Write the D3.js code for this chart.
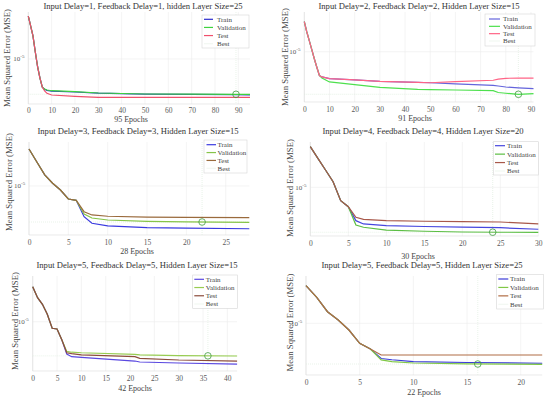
<!DOCTYPE html>
<html><head><meta charset="utf-8">
<script src="https://cdn.jsdelivr.net/npm/d3@7"></script>
<style>
html,body{margin:0;padding:0;background:#fff;}
svg{display:block;}
text{font-family:"Liberation Serif","Times New Roman",serif;}
</style></head>
<body><svg id="c" width="550" height="398"></svg>
<script>
// ---------------- DATA ----------------
const titles = [
  "Input Delay=1, Feedback Delay=1, hidden Layer Size=25",
  "Input Delay=2, Feedback Delay=2, Hidden Layer Size=15",
  "Input Delay=3, Feedback Delay=3, Hidden Layer Size=15",
  "Input Delay=4, Feedback Delay=4, Hidden Layer Size=20",
  "Input Delay=5, Feedback Delay=5, Hidden Layer Size=15",
  "Input Delay=5, Feedback Delay=5, Hidden Layer Size=25"
];
const maxEpochs = [95, 91, 28, 30, 42, 22];
const bestEpochs = [89, 85, 22, 24, 36, 16];
const xTicks = [
  [0,10,20,30,40,50,60,70,80,90],
  [0,10,20,30,40,50,60,70,80,90],
  [0,5,10,15,20,25],
  [0,5,10,15,20,25,30],
  [0,5,10,15,20,25,30,35,40],
  [0,5,10,15,20]
];
const yTickValues = [1e-5];
const legendLabels = ["Train", "Validation", "Test", "Best"];

// Panel 1
const p1Epochs = [0,1,2,3,4,5,6,7,8,10,20,30,50,70,89,95];
const p1Train = [5.2e-5,3.55e-5,2.42e-5,1.31e-5,7.36e-6,4.8e-6,3.4e-6,3.12e-6,3.0e-6,2.92e-6,2.82e-6,2.69e-6,2.59e-6,2.57e-6,2.55e-6,2.53e-6];
const p1Val   = [5.2e-5,3.55e-5,2.42e-5,1.31e-5,7.36e-6,4.8e-6,3.4e-6,3.16e-6,3.04e-6,2.96e-6,2.85e-6,2.71e-6,2.61e-6,2.59e-6,2.58e-6,2.58e-6];
const p1Test  = [5.2e-5,3.55e-5,2.42e-5,1.31e-5,7.36e-6,4.8e-6,3.4e-6,2.93e-6,2.68e-6,2.51e-6,2.39e-6,2.30e-6,2.30e-6,2.30e-6,2.30e-6,2.30e-6];
// Panel 2
const p2Epochs = [0,1,2,3,4,5,6,7,10,20,30,45,50,60,75,77,80,85,91];
const p2Train = [3.16e-5,2.13e-5,1.51e-5,1.07e-5,7.56e-6,5.46e-6,4.01e-6,3.8e-6,3.55e-6,3.38e-6,3.21e-6,3.08e-6,3.04e-6,2.90e-6,2.75e-6,2.68e-6,2.58e-6,2.50e-6,2.42e-6];
const p2Val   = [3.16e-5,2.13e-5,1.51e-5,1.07e-5,7.56e-6,5.46e-6,4.01e-6,3.64e-6,3.13e-6,2.82e-6,2.55e-6,2.36e-6,2.34e-6,2.30e-6,2.24e-6,2.09e-6,2.03e-6,1.95e-6,2.0e-6];
const p2Test  = [3.16e-5,2.13e-5,1.51e-5,1.07e-5,7.56e-6,5.46e-6,4.01e-6,3.8e-6,3.55e-6,3.38e-6,3.21e-6,3.08e-6,3.04e-6,3.16e-6,3.34e-6,3.5e-6,3.6e-6,3.64e-6,3.64e-6];
// Panel 3
const p3Epochs = [0,1,2,3,4,5,6,7,8,10,15,20,28];
const p3Train = [4.14e-5,2.51e-5,1.53e-5,1.11e-5,8.58e-6,6.07e-6,5.78e-6,3.08e-6,2.39e-6,2.16e-6,2.03e-6,1.98e-6,1.94e-6];
const p3Val   = [4.14e-5,2.51e-5,1.53e-5,1.11e-5,8.58e-6,6.07e-6,5.78e-6,3.41e-6,2.93e-6,2.71e-6,2.58e-6,2.52e-6,2.48e-6];
const p3Test  = [4.14e-5,2.51e-5,1.53e-5,1.11e-5,8.58e-6,6.07e-6,5.78e-6,3.73e-6,3.29e-6,3.13e-6,3.04e-6,3.0e-6,2.96e-6];
// Panel 4
const p4Epochs = [0,1,2,3,4,5,6,7,10,15,20,25,30];
const p4Train = [4.75e-5,3.03e-5,1.94e-5,1.24e-5,5.98e-6,4.75e-6,2.78e-6,2.45e-6,2.29e-6,2.22e-6,2.17e-6,2.12e-6,2.0e-6];
const p4Val   = [4.75e-5,3.03e-5,1.94e-5,1.24e-5,5.98e-6,4.75e-6,2.35e-6,2.16e-6,1.94e-6,1.85e-6,1.80e-6,1.78e-6,1.78e-6];
const p4Test  = [4.75e-5,3.03e-5,1.94e-5,1.24e-5,5.98e-6,4.75e-6,3.16e-6,2.93e-6,2.78e-6,2.72e-6,2.68e-6,2.64e-6,2.45e-6];
// Panel 5
const p5Epochs = [0,1,2,3,4,5,6,7,8,10,21,22,30,42];
const p5Train = [3.83e-5,2.51e-5,1.95e-5,1.33e-5,7.76e-6,7.56e-6,4.96e-6,2.89e-6,2.61e-6,2.55e-6,2.21e-6,2.13e-6,2.05e-6,1.97e-6];
const p5Val   = [3.83e-5,2.51e-5,1.95e-5,1.33e-5,7.76e-6,7.56e-6,4.96e-6,3.2e-6,3.1e-6,3.04e-6,2.86e-6,2.79e-6,2.71e-6,2.68e-6];
const p5Test  = [3.83e-5,2.51e-5,1.95e-5,1.33e-5,7.76e-6,7.56e-6,4.96e-6,3.04e-6,2.93e-6,2.79e-6,2.61e-6,2.45e-6,2.30e-6,2.21e-6];
// Panel 6
const p6Epochs = [0,1,2,3,4,5,6,7,8,10,15,22];
const p6Train = [4.24e-5,2.71e-5,1.56e-5,1.135e-5,7.73e-6,4.64e-6,3.73e-6,2.59e-6,2.47e-6,2.29e-6,2.22e-6,2.16e-6];
const p6Val   = [4.24e-5,2.71e-5,1.56e-5,1.135e-5,7.73e-6,4.64e-6,3.73e-6,2.45e-6,2.29e-6,2.18e-6,2.10e-6,2.07e-6];
const p6Test  = [4.24e-5,2.71e-5,1.56e-5,1.135e-5,7.73e-6,4.64e-6,3.73e-6,2.96e-6,2.96e-6,2.96e-6,2.96e-6,2.96e-6];

const allEpochs = [p1Epochs,p2Epochs,p3Epochs,p4Epochs,p5Epochs,p6Epochs];
const allTrain = [p1Train,p2Train,p3Train,p4Train,p5Train,p6Train];
const allVal = [p1Val,p2Val,p3Val,p4Val,p5Val,p6Val];
const allTest = [p1Test,p2Test,p3Test,p4Test,p5Test,p6Test];

// ---------------- LAYOUT / STYLE ----------------
const layout = [
  {x0:28.3,x1:250,y5:59,T:12,B:104,titleX:143,titleY:6,ylabX:7,ylabY:58,tickY:110,xlabY:119,xlabX:131,
   leg:{x:202,y:15,w:47,h:33,ly:19.3,lx0:204,lx1:213,tx:217}},
  {x0:304.3,x1:533.5,y5:51.7,T:12,B:102,titleX:419,titleY:6,ylabX:285,ylabY:57,tickY:109,xlabY:118,xlabX:415,
   leg:{x:485,y:14,w:50,h:32,ly:19,lx0:489,lx1:500,tx:503}},
  {x0:29,x1:249.3,y5:186,T:142,B:235,titleX:138,titleY:131,ylabX:9,ylabY:182,tickY:242.3,xlabY:250.7,xlabX:137,
   leg:{x:204,y:140,w:43,h:33,ly:144.7,lx0:206.5,lx1:216,tx:217.5}},
  {x0:310.3,x1:538.3,y5:187.3,T:142,B:236,titleX:423,titleY:131,ylabX:290,ylabY:188,tickY:243,xlabY:256,xlabX:418,
   leg:{x:493.3,y:141.7,w:45,h:33.3,ly:145.7,lx0:495,lx1:505,tx:507}},
  {x0:32.7,x1:237.1,y5:321.7,T:276,B:371,titleX:137,titleY:265,ylabX:15,ylabY:321,tickY:378.7,xlabY:387.7,xlabX:135,
   leg:{x:192.7,y:275,w:44.6,h:33.3,ly:279.3,lx0:194.3,lx1:204,tx:205.7}},
  {x0:306,x1:542.2,y5:323.3,T:276,B:375,titleX:422,titleY:265,ylabX:290,ylabY:322.5,tickY:382,xlabY:392,xlabX:424,
   leg:{x:496.7,y:274.3,w:46.6,h:34.7,ly:279,lx0:498.3,lx1:508.3,tx:510}}
];
const colors = [
  {train:"#2c2ccc",val:"#3ed23e",test:"#f0506c"},
  {train:"#6464dc",val:"#4ee04e",test:"#ff6486"},
  {train:"#3a3ae0",val:"#86c448",test:"#9a6a3c"},
  {train:"#4646de",val:"#5cbe44",test:"#a8584a"},
  {train:"#5a48e0",val:"#98cc52",test:"#8c4c3c"},
  {train:"#3c3cd8",val:"#80c846",test:"#b06c44"}
];
const pxPerDecade = 60;

const svg = d3.select("#c");

for (let i = 0; i < 6; i++) {
  const L = layout[i], C = colors[i];
  const g = svg.append("g");
  const x = d3.scaleLinear().domain([0, maxEpochs[i]]).range([L.x0, L.x1]);
  const lo = Math.pow(10, -5 - (L.B - L.y5) / pxPerDecade);
  const hi = Math.pow(10, -5 + (L.y5 - L.T) / pxPerDecade);
  const y = d3.scaleLog().domain([lo, hi]).range([L.B, L.T]);

  g.selectAll(".vg").data(xTicks[i]).enter().append("line")
    .attr("x1", d => x(d)).attr("x2", d => x(d)).attr("y1", L.T).attr("y2", L.B)
    .attr("stroke", "#ececec").attr("stroke-width", 0.6);
  g.selectAll(".hg").data(yTickValues).enter().append("line")
    .attr("x1", L.x0).attr("x2", L.x1).attr("y1", d => y(d)).attr("y2", d => y(d))
    .attr("stroke", "#ececec").attr("stroke-width", 0.6);
  g.append("line").attr("x1", L.x0).attr("x2", L.x0).attr("y1", L.T).attr("y2", L.B)
    .attr("stroke", "#dcdcdc").attr("stroke-width", 0.6);
  g.append("line").attr("x1", L.x0).attr("x2", L.x1).attr("y1", L.B).attr("y2", L.B)
    .attr("stroke", "#dcdcdc").attr("stroke-width", 0.6);

  const xa = d3.axisBottom(x).tickValues(xTicks[i]).tickSize(0).tickPadding(0).tickFormat(d3.format("d"));
  const ax = g.append("g").attr("transform", `translate(0,${L.tickY - 3})`).call(xa);
  ax.select(".domain").remove();
  ax.selectAll("text").attr("fill", "#5a5a5a").attr("font-size", 7.5)
    .attr("font-family", "Liberation Serif").attr("dy", "0.35em").attr("y", 3);

  yTickValues.forEach(v => {
    const t = g.append("text").attr("x", L.x0 - 15).attr("y", y(v)).attr("dy", "0.35em")
      .attr("text-anchor", "start").attr("fill", "#5a5a5a").attr("font-size", 7);
    t.append("tspan").text("10");
    t.append("tspan").attr("font-size", 5).attr("dy", "-3").text("-5");
  });

  const bestV = d3.scaleLinear().domain(allEpochs[i]).range(allVal[i])(bestEpochs[i]);
  g.append("line").attr("x1", L.x0).attr("x2", L.x1).attr("y1", y(bestV)).attr("y2", y(bestV))
    .attr("stroke", "#dfeedf").attr("stroke-width", 0.7).attr("stroke-dasharray", "1,1");
  g.append("line").attr("x1", x(bestEpochs[i])).attr("x2", x(bestEpochs[i])).attr("y1", L.T).attr("y2", L.B)
    .attr("stroke", "#dfeedf").attr("stroke-width", 0.7).attr("stroke-dasharray", "1,1");

  const line = d3.line().x(d => x(d[0])).y(d => y(d[1]));
  const ep = allEpochs[i];
  const series = [
    {vals: allTrain[i], color: C.train},
    {vals: allVal[i], color: C.val},
    {vals: allTest[i], color: C.test}
  ];
  series.forEach(s => {
    g.append("path").datum(ep.map((e, k) => [e, s.vals[k]]))
      .attr("d", line).attr("fill", "none").attr("stroke", s.color).attr("stroke-width", 1.2);
  });

  g.append("circle").attr("cx", x(bestEpochs[i])).attr("cy", y(bestV)).attr("r", 3.3)
    .attr("fill", "none").attr("stroke", "#3f9a3f").attr("stroke-width", 0.8);

  g.append("text").attr("x", L.titleX).attr("y", L.titleY).attr("dy", "0.35em")
    .attr("text-anchor", "middle").attr("fill", "#333").attr("font-size", 8.6).text(titles[i]);
  g.append("text").attr("x", L.xlabX).attr("y", L.xlabY).attr("dy", "0.35em")
    .attr("text-anchor", "middle").attr("fill", "#444").attr("font-size", 8).text(maxEpochs[i] + " Epochs");
  g.append("text").attr("transform", `translate(${L.ylabX},${L.ylabY}) rotate(-90)`).attr("dy", "0.35em")
    .attr("text-anchor", "middle").attr("fill", "#444").attr("font-size", 8.8).text("Mean Squared Error  (MSE)");

  const lg = L.leg;
  g.append("rect").attr("x", lg.x).attr("y", lg.y).attr("width", lg.w).attr("height", lg.h)
    .attr("fill", "#fff").attr("stroke", "#d6d6d6").attr("stroke-width", 0.6);
  const legColors = [C.train, C.val, C.test, "#f2f8f2"];
  const step = (lg.h - 2 * (lg.ly - lg.y)) / 3;
  legendLabels.forEach((lab, k) => {
    const yy = lg.ly + k * step;
    g.append("line").attr("x1", lg.lx0).attr("x2", lg.lx1).attr("y1", yy).attr("y2", yy)
      .attr("stroke", legColors[k]).attr("stroke-width", 1.2);
    g.append("text").attr("x", lg.tx).attr("y", yy).attr("dy", "0.35em")
      .attr("fill", "#444").attr("font-size", 7).text(lab);
  });
}
</script></body></html>
